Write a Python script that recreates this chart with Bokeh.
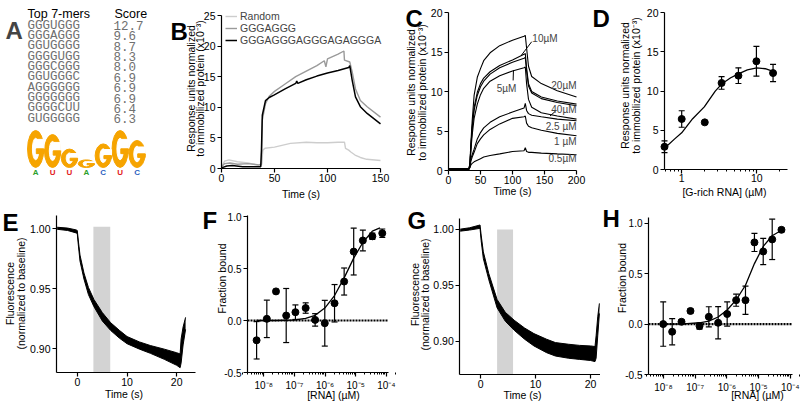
import numpy as np
from bokeh.plotting import figure
from bokeh.layouts import row, column
from bokeh.models import (Range1d, Label, ColumnDataSource, Whisker, TeeHead,
                          FixedTicker, CustomJSTickFormatter, BasicTickFormatter,
                          PrintfTickFormatter, Legend, LegendItem)
from bokeh.embed import file_html
from bokeh.resources import INLINE
from bokeh.core.properties import value

SANS = "Liberation Sans"
MONO = "Liberation Mono"

# ---------------- data ----------------
# A: top 7-mers and logo
kmers = ["GGGUGGG", "GGGAGGG", "GGUGGGG", "GGGGUGG", "GGGCGGG",
         "GGUGGGC", "AGGGGGG", "GGGGGGG", "GGGGCUU", "GUGGGGG"]
kmer_scores = [12.7, 9.6, 8.7, 8.3, 8.0, 6.9, 6.9, 6.9, 6.4, 6.3]
logo_letters = ["G", "G", "G", "G", "G", "G", "G"]
logo_bits = [1.85, 1.65, 0.92, 0.38, 1.18, 1.85, 1.35]
logo_minor = ["A", "U", "U", "A", "C", "U", "C"]
logo_minor_colors = ["#2ca02c", "#e31a1c", "#e31a1c", "#2ca02c", "#2b5fbf", "#e31a1c", "#2b5fbf"]

# B: SPR sensorgrams
b_random_t = [0, 3, 7, 15, 25, 35, 37.7, 39, 41, 50, 65, 80, 90, 100, 110, 116, 117, 120, 122, 126, 131, 137, 150]
b_random_v = [0.3, 1.2, 1.4, 1.1, 0.9, 0.5, 0.5, 3.0, 3.3, 3.5, 4.1, 4.3, 4.2, 4.2, 4.3, 4.3, 3.3, 3.0, 2.7, 2.2, 1.8, 1.5, 1.3]
b_g7_t = [0, 3, 8, 15, 25, 35, 37.7, 38.5, 41.5, 45, 50, 60, 70, 80, 90, 97, 98.5, 100, 110, 115.5, 116, 121, 123.3, 126.4, 131, 137.4, 150]
b_g7_v = [0.3, 0.8, 0.9, 0.7, 0.8, 0.6, 0.7, 7.9, 10.6, 11.8, 12.6, 13.8, 15.0, 15.9, 16.8, 17.6, 16.6, 17.9, 18.7, 19.2, 17.7, 17.4, 15.8, 13.0, 11.1, 10.1, 8.4]
b_g18_t = [0, 5, 10, 20, 30, 37, 37.7, 38.5, 41.5, 45, 49.4, 60, 70, 71, 72, 80, 90, 100, 110, 120, 121, 123.3, 126.4, 131, 137.4, 150]
b_g18_v = [0.1, 0.4, 0.5, 0.3, 0.3, 0.3, 3.0, 8.7, 11.1, 11.6, 12.0, 13.0, 13.9, 14.3, 13.9, 14.5, 15.1, 15.6, 16.0, 16.5, 16.8, 14.4, 11.7, 10.1, 9.0, 7.3]
b_names = ["Random", "GGGAGGG", "GGGAGGGAGGGAGAGGGA"]

# C: concentration series
c_t = [0, 32, 33.5, 35, 37, 40, 45, 50, 55, 65, 80, 100, 118, 120, 122, 125, 130, 145, 170, 200]
c_20uM = [0.2, 0.2, 1.0, 3.5, 6.3, 9.5, 11.8, 12.9, 13.9, 14.9, 15.8, 16.5, 17.0, 17.1, 15.5, 13.2, 11.9, 11.0, 10.1, 9.3]
c_10uM = [0.2, 0.2, 0.8, 3.0, 5.5, 8.0, 9.9, 11.0, 11.7, 12.5, 13.3, 14.0, 14.7, 14.8, 13.0, 11.0, 10.0, 9.3, 8.8, 8.4]
c_40uM = [0.2, 0.2, 0.8, 3.0, 5.3, 7.6, 9.5, 10.6, 11.3, 12.2, 13.0, 13.7, 14.2, 14.3, 12.6, 10.7, 9.8, 9.1, 8.6, 8.2]
c_5uM = [0.2, 0.2, 0.7, 2.6, 4.5, 6.6, 8.4, 9.6, 10.4, 11.3, 12.0, 12.6, 13.0, 13.1, 11.0, 9.0, 8.0, 7.3, 6.9, 6.5]
c_2p5uM = [0.2, 0.2, 0.5, 1.5, 2.0, 2.7, 4.0, 4.8, 5.4, 6.1, 6.8, 7.4, 7.9, 8.5, 7.6, 7.2, 7.0, 6.8, 6.5, 6.3]
c_1uM = [0.2, 0.2, 0.4, 1.2, 1.7, 2.3, 3.4, 4.0, 4.5, 5.2, 5.9, 6.6, 6.8, 6.9, 6.0, 5.6, 5.4, 5.1, 4.7, 4.4]
c_0p5uM = [0.2, 0.2, 0.4, 0.7, 0.9, 1.1, 1.3, 1.5, 1.7, 1.9, 2.1, 2.4, 2.5, 2.9, 2.4, 2.3, 2.3, 2.2, 2.1, 2.0]
c_labels = ["10µM", "5µM", "20µM", "40µM", "2.5 µM", "1 µM", "0.5µM"]

# D: dose response
d_conc = [0.59, 1.0, 2.03, 3.4, 5.7, 9.9, 16.5]
d_resp = [2.93, 6.46, 6.03, 11.04, 11.97, 13.8, 12.3]
d_err = [0.75, 1.05, 0.2, 0.8, 1.0, 1.9, 1.1]
d_fit_conc = [0.6, 0.8, 1.0, 1.4, 2.0, 2.8, 3.4, 4.5, 5.7, 7.5, 10, 13, 16.5]
d_fit_resp = [2.8, 3.9, 4.7, 6.5, 8.0, 10.0, 10.9, 11.7, 12.2, 12.7, 12.95, 12.85, 12.5]

# E: fluorescence traces (envelope of the overlaid traces)
e_t = [-4.1, -2.0, -0.3, -0.05, 0.15, 0.5, 1.3, 2.2, 3.3, 5.0, 6.7, 8.5, 10.0, 12.5, 14.7, 17.5, 20.0, 20.7, 20.9, 21.3, 21.8]
e_upper = [1.0012, 1.0005, 0.9990, 0.9985, 0.9905, 0.978, 0.963, 0.951, 0.941, 0.930, 0.9215, 0.915, 0.910, 0.9055, 0.9025, 0.8995, 0.8965, 0.8955, 0.908, 0.918, 0.926]
e_lower = [0.9995, 0.9985, 0.9965, 0.9960, 0.9870, 0.973, 0.958, 0.945, 0.935, 0.923, 0.915, 0.9085, 0.904, 0.8995, 0.896, 0.891, 0.886, 0.884, 0.888, 0.903, 0.916]
e_window = [3.2, 6.6]
e_window_top = 1.0017

# F: binding
f_conc = [5.85e-9, 1.26e-8, 2.51e-8, 5.4e-8, 1.08e-7, 2.33e-7, 4.75e-7, 9.8e-7, 2.04e-6, 4.2e-6, 8.6e-6, 1.71e-5, 3.49e-5, 7.36e-5]
f_frac = [-0.19, 0.016, 0.28, 0.048, 0.08, 0.12, 0.006, -0.026, 0.166, 0.375, 0.663, 0.77, 0.81, 0.84]
f_sem = [0.18, 0.18, 0.02, 0.26, 0.07, 0.05, 0.06, 0.22, 0.18, 0.13, 0.225, 0.10, 0.03, 0.04]
f_fit_conc = [5.85e-9, 2.5e-8, 1e-7, 2.33e-7, 4.75e-7, 9.8e-7, 2.04e-6, 4.2e-6, 8.6e-6, 1.71e-5, 3.49e-5, 6.2e-5]
f_fit_frac = [0.0, 0.0, 0.005, 0.02, 0.05, 0.12, 0.24, 0.41, 0.6, 0.75, 0.86, 0.89]

# G: fluorescence traces
g_t = [-3.7, -2.0, -0.1, 0.1, 0.5, 1.5, 3.0, 4.5, 6.1, 8.0, 9.7, 12.0, 13.6, 16.0, 18.0, 20.0, 20.8, 21.0, 21.3, 21.6]
g_upper = [1.0003, 1.0015, 1.0040, 0.995, 0.980, 0.9605, 0.9375, 0.926, 0.919, 0.912, 0.907, 0.902, 0.899, 0.8975, 0.8965, 0.896, 0.8955, 0.905, 0.922, 0.934]
g_lower = [0.9985, 0.9995, 1.0010, 0.990, 0.974, 0.955, 0.930, 0.918, 0.910, 0.902, 0.896, 0.890, 0.887, 0.885, 0.884, 0.883, 0.882, 0.885, 0.905, 0.925]
g_window = [3.0, 5.9]
g_window_top = 1.000

# H: binding
h_conc = [9.8e-9, 1.88e-8, 3.7e-8, 7.1e-8, 1.37e-7, 2.69e-7, 5.3e-7, 1.02e-6, 1.96e-6, 3.86e-6, 7.4e-6, 1.40e-5, 2.69e-5, 5.27e-5]
h_frac = [0.0, -0.076, 0.023, 0.13, -0.02, 0.072, 0.013, 0.10, 0.237, 0.237, 0.81, 0.72, 0.84, 0.935]
h_sem = [0.22, 0.13, 0.02, 0.02, 0.03, 0.10, 0.16, 0.12, 0.06, 0.14, 0.09, 0.13, 0.20, 0.02]
h_fit_conc = [9.8e-9, 4.4e-8, 1.37e-7, 2.69e-7, 5.3e-7, 1.02e-6, 1.96e-6, 3.86e-6, 7.4e-6, 1.40e-5, 2.69e-5, 5.27e-5]
h_fit_frac = [0.0, 0.003, 0.013, 0.03, 0.07, 0.14, 0.24, 0.385, 0.6, 0.77, 0.876, 0.93]

# ---------------- helpers ----------------
TOP_Y, TOP_H = 0, 200
BOT_Y, BOT_H = 200, 202


class Panel:
    """A figure whose frame fills it; the plotted region (axes) sits at the given page pixels."""

    def __init__(self, left, top, w, h, rx, ry, dx, dy, xlog=False):
        f = np.log10 if xlog else (lambda v: v)
        a, b = f(dx[0]), f(dx[1])
        kx = (b - a) / (rx[1] - rx[0])
        c, d = dy
        ky = (d - c) / (ry[1] - ry[0])  # ry = (px_top, px_bottom)
        self.x_of = (lambda px: 10 ** (a + (px - rx[0]) * kx)) if xlog else (lambda px: a + (px - rx[0]) * kx)
        self.y_of = lambda py: c + (ry[1] - py) * ky
        self.dx, self.dy = dx, dy
        p = figure(width=w, height=h, x_axis_type="log" if xlog else "linear",
                   x_range=Range1d(self.x_of(left), self.x_of(left + w)),
                   y_range=Range1d(self.y_of(top + h), self.y_of(top)),
                   output_backend="svg", toolbar_location=None,
                   min_border_left=0, min_border_right=0, min_border_top=0, min_border_bottom=0)
        p.outline_line_color = None
        p.grid.visible = False
        p.background_fill_color = "white"
        p.border_fill_color = "white"
        p.xaxis.fixed_location = dy[0]
        p.xaxis.bounds = (dx[0], dx[1])
        p.yaxis.fixed_location = dx[0]
        p.yaxis.bounds = (dy[0], dy[1])
        for ax in p.axis:
            ax.axis_line_color = "black"
            ax.axis_line_width = 1.2
            ax.major_tick_line_color = "black"
            ax.major_tick_line_width = 1.2
            ax.major_tick_out = 4
            ax.major_tick_in = 0
            ax.minor_tick_line_color = None
            ax.major_label_text_font = SANS
            ax.major_label_text_font_size = "10.5px"
            ax.major_label_text_color = "black"
            ax.major_label_standoff = 2
        p.xaxis.major_label_standoff = 1
        self.p = p

    def text(self, px, py, txt, size="10.5px", angle=0, align="center", baseline="middle",
             bold=False, color="black"):
        self.p.add_layout(Label(x=self.x_of(px), y=self.y_of(py), text=txt, angle=angle,
                                angle_units="deg", text_font=SANS, text_font_size=size,
                                text_align=align, text_baseline=baseline, text_color=color,
                                text_font_style="bold" if bold else "normal"))

    def letter(self, px, py, txt):
        self.text(px, py, txt, size="24px", align="left", baseline="alphabetic", bold=True)

    def zero_line(self):
        self.p.line(x=[self.dx[0], self.dx[1]], y=[0, 0], color="black", line_width=2.2, line_dash="2 1")


sup_js = """
const m = {"-": "⁻", "0": "⁰", "1": "¹", "2": "²", "3": "³", "4": "⁴",
           "5": "⁵", "6": "⁶", "7": "⁷", "8": "⁸", "9": "⁹"};
const e = Math.round(Math.log10(tick));
return "10" + String(e).split("").map(c => m[c]).join("");
"""


def log_rna_axis(p):
    major = [1e-8, 1e-7, 1e-6, 1e-5, 1e-4]
    minor = [k * 10.0 ** e for e in range(-9, -3) for k in range(2, 10)]
    ax = p.xaxis[0]
    ax.ticker = FixedTicker(ticks=major, minor_ticks=minor)
    ax.formatter = CustomJSTickFormatter(code=sup_js)
    ax.minor_tick_line_color = "black"
    ax.minor_tick_out = 2
    ax.minor_tick_in = 0
    ax.major_label_text_font_size = "10px"
    ax.major_label_standoff = 3
    p.yaxis[0].ticker = FixedTicker(ticks=[-0.5, 0.0, 0.5, 1.0])
    p.yaxis[0].formatter = PrintfTickFormatter(format="%.1f")
    p.yaxis[0].major_label_text_font_size = "10px"


def error_points(p, xs, ys, errs):
    src = ColumnDataSource(dict(x=xs, y=ys, lo=[v - e for v, e in zip(ys, errs)],
                                hi=[v + e for v, e in zip(ys, errs)]))
    p.add_layout(Whisker(source=src, base="x", lower="lo", upper="hi", dimension="height",
                         line_color="black", line_width=1.2,
                         upper_head=TeeHead(size=6, line_width=1.2),
                         lower_head=TeeHead(size=6, line_width=1.2)))
    p.scatter("x", "y", source=src, size=7, color="black")


def trace_band(p, t, lo, hi):
    p.varea(x=t, y1=lo, y2=hi, color="black")
    p.line(t, hi, color="black", line_width=1)
    p.line(t, lo, color="black", line_width=1)


RESP = ["Response units normalized", "to immobilized protein (x10⁻³)"]
FLUO = ["Fluorescence", "(normalized to baseline)"]

# ---------------- panel A ----------------
A_L, A_W = 0, 168
pA = figure(width=A_W, height=TOP_H, x_range=Range1d(A_L, A_L + A_W), y_range=Range1d(TOP_Y + TOP_H, TOP_Y),
            output_backend="svg", toolbar_location=None, x_axis_location=None, y_axis_location=None,
            min_border_left=0, min_border_right=0, min_border_top=0, min_border_bottom=0)
pA.grid.visible = False
pA.outline_line_color = None

pA.text(x=[27, 114], y=[13.5, 13.5], text=["Top 7-mers", "Score"], text_font=value(SANS),
        text_font_size="12.5px", text_baseline="middle", text_color="black")
row_y = [25 + 10.37 * i for i in range(len(kmers))]
pA.text(x=[27] * len(kmers), y=row_y, text=kmers, text_font=value(MONO),
        text_font_size="12.5px", text_baseline="middle", text_color="#707070")
pA.text(x=[113] * len(kmers), y=row_y, text=["%.1f" % s for s in kmer_scores],
        text_font=value(MONO), text_font_size="12.5px", text_baseline="middle", text_color="#707070")

slot, x0, base, bit_px, W = 16.9, 26.7, 167.0, 20.0, 16.2
orange = "#F6A400"
cx = [x0 + slot * (i + 0.5) for i in range(len(logo_bits))]
hh = [b * bit_px for b in logo_bits]
pA.ellipse(x=cx, y=[base - h / 2 for h in hh], width=W, height=hh, color=orange)
pA.ellipse(x=cx, y=[base - h / 2 for h in hh], width=W * 0.40, height=[h * 0.58 for h in hh], color="white")
pA.rect(x=[c + W * 0.30 for c in cx], y=[base - h * 0.635 for h in hh], width=W * 0.42,
        height=[h * 0.25 for h in hh], color="white")
pA.rect(x=[c + W * 0.27 for c in cx], y=[base - h * 0.44 for h in hh], width=W * 0.46,
        height=[max(h * 0.13, 1.2) for h in hh], color=orange)
pA.text(x=cx, y=[base + 4.5] * len(cx), text=logo_minor, text_font=value(SANS),
        text_font_size="8px", text_font_style="bold", text_align="center", text_baseline="middle",
        text_color=logo_minor_colors)
pA.add_layout(Label(x=5, y=30, text="A", text_font=SANS, text_font_size="24px",
                    text_font_style="bold", text_baseline="alphabetic"))

# ---------------- panel B ----------------
B = Panel(168, TOP_Y, 224, TOP_H, (221, 380), (15, 168), (0, 150), (0, 25))
pB = B.p
pB.xaxis.ticker = FixedTicker(ticks=[0, 50, 100, 150])
pB.yaxis.ticker = FixedTicker(ticks=[0, 5, 10, 15, 20, 25])
rR = pB.line(b_random_t, b_random_v, color="#cdcdcd", line_width=1.4)
rG = pB.line(b_g7_t, b_g7_v, color="#9a9a9a", line_width=1.4)
rK = pB.line(b_g18_t, b_g18_v, color="black", line_width=1.5)
legB = Legend(items=[LegendItem(label=b_names[0], renderers=[rR]),
                     LegendItem(label=b_names[1], renderers=[rG]),
                     LegendItem(label=b_names[2], renderers=[rK])],
              location=(225 - 168, 154), border_line_color=None, background_fill_alpha=0,
              label_text_font=SANS, label_text_font_size="10.5px", glyph_width=12,
              glyph_height=10, label_height=10, label_standoff=3, spacing=0, padding=0, margin=0)
pB.add_layout(legB)
for txt, x in zip(RESP, [190, 199.5]):
    B.text(x, 88, txt, angle=90)
B.text(300.5, 193, "Time (s)")
B.letter(170, 31, "B")

# ---------------- panel C ----------------
C = Panel(392, TOP_Y, 200, TOP_H, (448, 576), (12, 170), (0, 200), (0, 20))
pC = C.p
pC.xaxis.ticker = FixedTicker(ticks=[0, 50, 100, 150, 200])
pC.yaxis.ticker = FixedTicker(ticks=[0, 5, 10, 15, 20])
for series in [c_20uM, c_10uM, c_40uM, c_5uM, c_2p5uM, c_1uM, c_0p5uM]:
    pC.line(c_t, series, color="black", line_width=1.1)
c_label_x = [131, 90.6, 200, 200, 200, 200, 200]
c_label_y = [16.7, 10.4, 10.8, 7.7, 5.6, 3.7, 1.5]
c_label_align = ["left", "center", "right", "right", "right", "right", "right"]
for t, x, y, a in zip(c_labels, c_label_x, c_label_y, c_label_align):
    pC.add_layout(Label(x=x, y=y, text=t, text_font=SANS, text_font_size="10px",
                        text_align=a, text_baseline="middle"))
pC.segment(x0=[130, 101, 167], y0=[16.3, 11.4, 7.5], x1=[114, 101.5, 158.6], y1=[14.6, 12.7, 6.9],
           color="black", line_width=1)
for txt, x in zip(RESP, [410.5, 421]):
    C.text(x, 92, txt, angle=90)
C.text(512, 190.5, "Time (s)")
C.letter(405, 18, "C")

# ---------------- panel D ----------------
D = Panel(592, TOP_Y, 208, TOP_H, (664, 787), (12, 169.3), (0.59, 25.7), (0, 20), xlog=True)
pD = D.p
pD.xaxis.ticker = FixedTicker(ticks=[1, 10], minor_ticks=[0.6, 0.7, 0.8, 0.9, 2, 3, 4, 5, 6, 7, 8, 9, 20])
pD.xaxis.formatter = BasicTickFormatter()
pD.xaxis.minor_tick_line_color = "black"
pD.xaxis.minor_tick_out = 2
pD.xaxis.minor_tick_in = 0
pD.xaxis.major_label_standoff = 0
pD.yaxis.ticker = FixedTicker(ticks=[0, 5, 10, 15, 20])
pD.line(d_fit_conc, d_fit_resp, color="black", line_width=1.3)
error_points(pD, d_conc, d_resp, d_err)
for txt, x in zip(RESP, [624.5, 635]):
    D.text(x, 85, txt, angle=90)
D.text(724, 191.5, "[G-rich RNA] (µM)")
D.letter(592, 18, "D")

# ---------------- panel E ----------------
E = Panel(0, BOT_Y, 200, BOT_H, (56, 195), (215, 372), (-4.24, 23.8), (0.88, 1.011))
pE = E.p
pE.xaxis.ticker = FixedTicker(ticks=[0, 10, 20])
pE.yaxis.ticker = FixedTicker(ticks=[0.90, 0.95, 1.00])
pE.yaxis.formatter = PrintfTickFormatter(format="%.2f")
pE.quad(left=[e_window[0]], right=[e_window[1]], bottom=[0.88], top=[e_window_top],
        color="#d3d3d3", line_color=None)
trace_band(pE, e_t, e_lower, e_upper)
for txt, x in zip(FLUO, [9.5, 20]):
    E.text(x, 293, txt, angle=90)
E.text(123.5, 393, "Time (s)")
E.letter(2, 222, "E")

# ---------------- panel F ----------------
F = Panel(200, BOT_Y, 200, BOT_H, (247, 388), (215, 372), (10 ** -8.53, 10 ** -3.93), (-0.5, 1.01), xlog=True)
pF = F.p
log_rna_axis(pF)
F.zero_line()
pF.line(f_fit_conc, f_fit_frac, color="black", line_width=1.3)
error_points(pF, f_conc, f_frac, f_sem)
F.text(221, 278, "Fraction bound", angle=90)
F.text(333, 394, "[RNA] (µM)")
F.letter(202, 220, "F")

# ---------------- panel G ----------------
G = Panel(400, BOT_Y, 200, BOT_H, (459.3, 600), (218, 374), (-3.78, 21.8), (0.8705, 1.0098))
pG = G.p
pG.xaxis.ticker = FixedTicker(ticks=[0, 10, 20])
pG.yaxis.ticker = FixedTicker(ticks=[0.90, 0.95, 1.00])
pG.yaxis.formatter = PrintfTickFormatter(format="%.2f")
pG.quad(left=[g_window[0]], right=[g_window[1]], bottom=[0.8705], top=[g_window_top],
        color="#d3d3d3", line_color=None)
trace_band(pG, g_t, g_lower, g_upper)
for txt, x in zip(FLUO, [414, 424.5]):
    G.text(x, 294, txt, angle=90)
G.text(522, 394, "Time (s)")
G.letter(407, 220, "G")

# ---------------- panel H ----------------
H = Panel(600, BOT_Y, 200, BOT_H, (648, 792), (216.7, 374), (10 ** -8.473, 10 ** -3.93), (-0.5, 1.06), xlog=True)
pH = H.p
log_rna_axis(pH)
H.zero_line()
pH.line(h_fit_conc, h_fit_frac, color="black", line_width=1.3)
error_points(pH, h_conc, h_frac, h_sem)
H.text(621, 277.5, "Fraction bound", angle=90)
H.text(757, 394.5, "[RNA] (µM)")
H.letter(602, 218, "H")

layout = column(row(pA, pB, pC, pD), row(pE, pF, pG, pH))
open("out.html", "w").write(file_html(layout, INLINE))
